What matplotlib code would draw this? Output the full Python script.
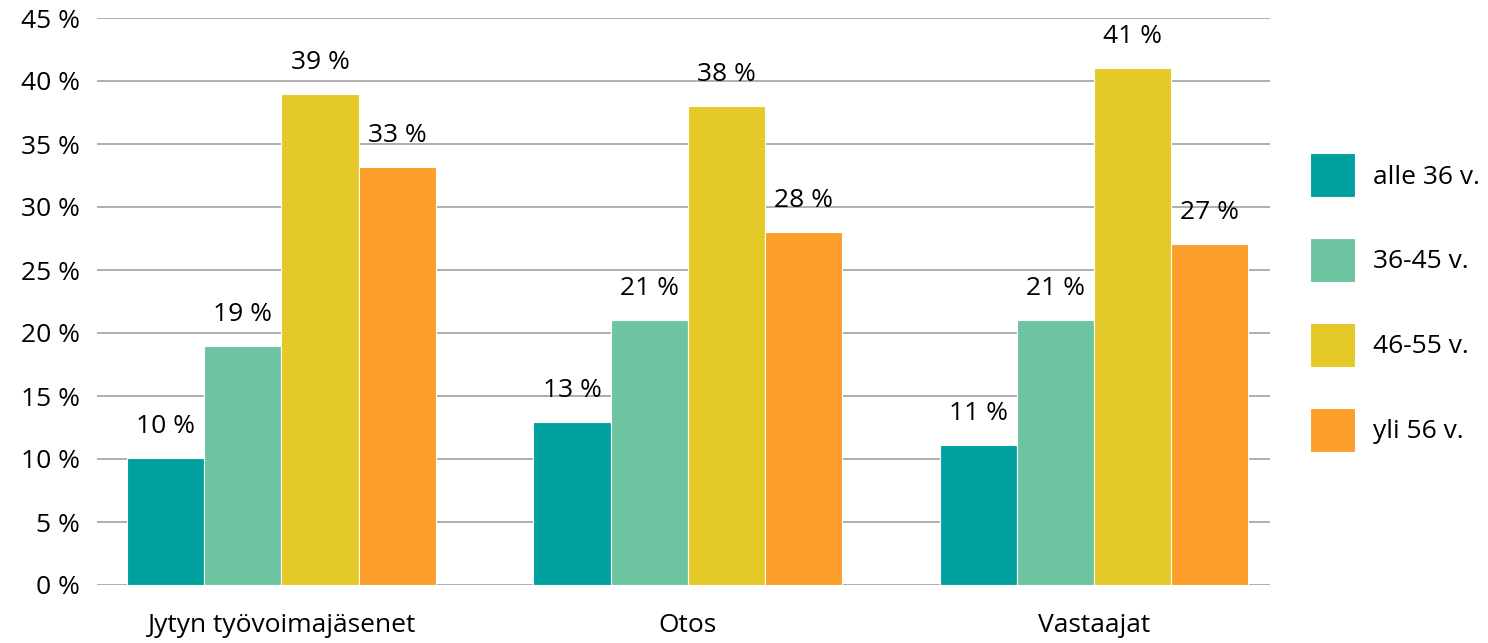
import matplotlib.pyplot as plt
import numpy as np

plt.rcParams['font.family'] = ['Open Sans', 'DejaVu Sans']
plt.rcParams['font.size'] = 19

groups = ['Jytyn työvoimajäsenet', 'Otos', 'Vastaajat']
series = ['alle 36 v.', '36-45 v.', '46-55 v.', 'yli 56 v.']
alle36 = [10.1, 12.9, 11.1]
v36_45 = [19.0, 21.0, 21.0]
v46_55 = [39.0, 38.0, 41.0]
yli56 = [33.2, 28.0, 27.1]
labels = [['10 %', '13 %', '11 %'],
          ['19 %', '21 %', '21 %'],
          ['39 %', '38 %', '41 %'],
          ['33 %', '28 %', '27 %']]
colors = ['#00A09E', '#6CC4A0', '#E5C928', '#FD9E2A']
yticks = [0, 5, 10, 15, 20, 25, 30, 35, 40, 45]

fig = plt.figure(figsize=(14.88, 6.43), dpi=100)
ax = fig.add_axes([97/1488, 1-585/643, (1270-97)/1488, (585-18)/643])

x = np.arange(len(groups))
w = 0.19
data = [alle36, v36_45, v46_55, yli56]
for i, vals in enumerate(data):
    pos = x + (i - 1.5)*w
    bars = ax.bar(pos, vals, w, color=colors[i], label=series[i],
                  edgecolor='white', linewidth=0.8, zorder=3)
    for b, lab in zip(bars, labels[i]):
        ax.annotate(lab, (b.get_x() + b.get_width()/2, b.get_height()),
                    xytext=(0, 18), textcoords='offset points',
                    ha='center', va='baseline')

ax.set_xlim(-0.454, 2.433)
ax.set_ylim(0, 45)
ax.set_yticks(yticks)
ax.set_yticklabels([f'{t} %' for t in yticks])
ax.set_xticks(x)
ax.set_xticklabels(groups)
ax.yaxis.grid(True, color='#A8A8A8', linewidth=1.3, zorder=0)
ax.set_axisbelow(True)
for s in ax.spines.values():
    s.set_visible(False)
ax.tick_params(axis='y', length=0, pad=12)
ax.tick_params(axis='x', length=0, pad=20)

fig.legend(loc='center left', bbox_to_anchor=(1310/1488, 1-302.5/643),
           frameon=False, borderpad=0, borderaxespad=0,
           handlelength=1.7, handleheight=2.18, labelspacing=1.55,
           handletextpad=0.7)

fig.savefig('out.png', dpi=100)
